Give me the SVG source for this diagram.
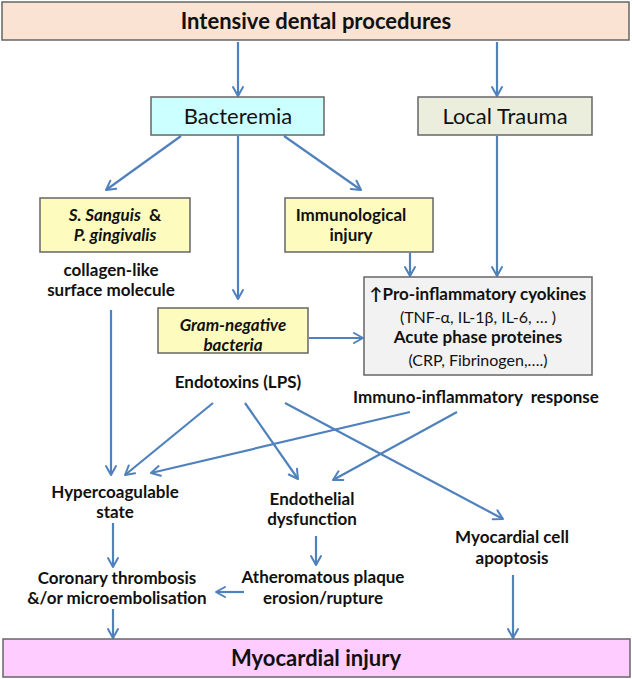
<svg xmlns="http://www.w3.org/2000/svg" width="632" height="679" viewBox="0 0 632 679">
<defs>
<marker id="ah" markerUnits="userSpaceOnUse" markerWidth="14" markerHeight="14" viewBox="0 0 14 14" refX="11" refY="7" orient="auto">
<path d="M2,2 L11,7 L2,12" fill="none" stroke="#4F81BD" stroke-width="2" stroke-linecap="round" stroke-linejoin="round"/>
</marker>
</defs>
<style>
.box{stroke:#666;stroke-width:1.5}
.t{font-family:Lato,"Liberation Sans",sans-serif;fill:#111;text-anchor:middle}
.b{font-weight:bold}
.i{font-style:italic}
.s17{font-size:17px}
.s16{font-size:16px}
.s22{font-size:22px}
.c line{stroke:#4F81BD;stroke-width:2.2;marker-end:url(#ah)}
</style>
<rect width="632" height="679" fill="#fff"/>
<g class="c">
<line x1="238" y1="42" x2="238" y2="96"/>
<line x1="497" y1="42" x2="497" y2="96"/>
<line x1="181" y1="136" x2="106" y2="190"/>
<line x1="284" y1="136" x2="361" y2="190"/>
<line x1="238" y1="136" x2="238" y2="299"/>
<line x1="497" y1="136" x2="497" y2="276"/>
<line x1="410" y1="253" x2="410" y2="276"/>
<line x1="309" y1="338" x2="363" y2="338"/>
<line x1="111" y1="310" x2="111" y2="475"/>
<line x1="213" y1="403" x2="125" y2="475"/>
<line x1="245" y1="403" x2="298" y2="479"/>
<line x1="285" y1="403" x2="503" y2="519"/>
<line x1="410" y1="412" x2="151" y2="473"/>
<line x1="457" y1="412" x2="333" y2="480"/>
<line x1="113" y1="523" x2="113" y2="567"/>
<line x1="316" y1="536" x2="316" y2="565"/>
<line x1="244" y1="592" x2="216" y2="592"/>
<line x1="113" y1="609" x2="113" y2="638"/>
<line x1="513" y1="575" x2="513" y2="638"/>
</g>
<g id="intensive">
<rect class="box" x="2" y="2" width="627" height="38" fill="#FBE3D3"/>
<text class="t b s22" x="316" y="29">Intensive dental procedures</text>
</g>
<g id="bacteremia">
<rect class="box" x="151" y="97" width="173" height="38" fill="#CCFFFF"/>
<text class="t s22" x="238" y="124">Bacteremia</text>
</g>
<g id="localtrauma">
<rect class="box" x="418" y="97" width="174" height="38" fill="#EBEEDC"/>
<text class="t s22" x="505" y="124">Local Trauma</text>
</g>
<g id="ssanguis">
<rect class="box" x="40" y="198" width="150" height="54" fill="#FDFBBE"/>
<text class="t b s17" x="115" y="221" xml:space="preserve"><tspan class="i">S. Sanguis</tspan>  &amp;</text>
<text class="t b i s17" x="115" y="241">P. gingivalis</text>
</g>
<g id="collagen">
<text class="t b s17" x="111" y="276">collagen-like</text>
<text class="t b s17" x="111" y="296">surface molecule</text>
</g>
<g id="immunological">
<rect class="box" x="285" y="198" width="148" height="54" fill="#FDFBBE"/>
<text class="t b s17" x="351" y="221">Immunological</text>
<text class="t b s17" x="351" y="241">injury</text>
</g>
<g id="gramneg">
<rect class="box" x="158" y="308" width="150" height="45" fill="#FDFBBE"/>
<text class="t b i s17" x="233" y="331">Gram-negative</text>
<text class="t b i s17" x="233" y="351">bacteria</text>
</g>
<g id="endotoxins">
<text class="t b s17" x="238" y="388">Endotoxins (LPS)</text>
</g>
<g id="cytokines">
<rect class="box" x="364" y="277" width="228" height="98" fill="#F2F2F2"/>
<text class="t b s17" x="478" y="300">↑Pro-inflammatory cyokines</text>
<text class="t s16" x="478" y="323">(TNF-α, IL-1β, IL-6, … )</text>
<text class="t b s17" x="478" y="343">Acute phase proteines</text>
<text class="t s16" x="478" y="366">(CRP, Fibrinogen,….)</text>
</g>
<g id="immunoresp">
<text class="t b s17" x="476" y="403" xml:space="preserve">Immuno-inflammatory  response</text>
</g>
<g id="hypercoag">
<text class="t b s17" x="115" y="498">Hypercoagulable</text>
<text class="t b s17" x="115" y="518">state</text>
</g>
<g id="endothelial">
<text class="t b s17" x="312" y="505">Endothelial</text>
<text class="t b s17" x="312" y="525">dysfunction</text>
</g>
<g id="apoptosis">
<text class="t b s17" x="512" y="543">Myocardial cell</text>
<text class="t b s17" x="512" y="564">apoptosis</text>
</g>
<g id="coronary">
<text class="t b s17" x="117" y="584">Coronary thrombosis</text>
<text class="t b s17" x="117" y="604">&amp;/or microembolisation</text>
</g>
<g id="atheromatous">
<text class="t b s17" x="323" y="583">Atheromatous plaque</text>
<text class="t b s17" x="323" y="604">erosion/rupture</text>
</g>
<g id="myocardial">
<rect class="box" x="3" y="639" width="627" height="38" fill="#FFCCFF"/>
<text class="t b s22" x="316" y="666">Myocardial injury</text>
</g>
</svg>
